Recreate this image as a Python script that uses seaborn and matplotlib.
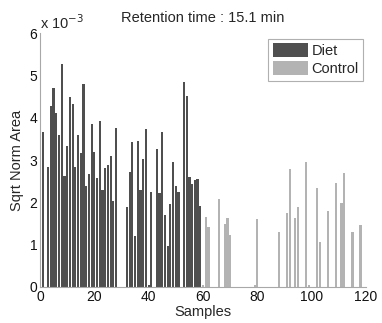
import numpy as np
import pandas as pd
import matplotlib
matplotlib.use("Agg")
import matplotlib.pyplot as plt
import seaborn as sns
from matplotlib.ticker import FuncFormatter

# Values in units of 1e-3
diet_values = [3.65, 0, 2.83, 4.28, 4.70, 4.12, 3.60, 5.27, 2.62, 3.33,
               4.50, 4.32, 2.83, 3.58, 3.17, 4.80, 2.38, 2.68, 3.85, 3.19,
               2.57, 3.92, 2.28, 2.80, 2.88, 3.10, 2.03, 3.75, 0, 0,
               0, 1.90, 2.72, 3.42, 1.20, 3.44, 2.30, 3.02, 3.74, 0.04,
               2.24, 0, 3.26, 2.21, 3.65, 1.69, 0.96, 1.96, 2.96, 2.39,
               2.25, 0, 4.84, 4.52, 2.59, 2.43, 2.53, 2.55, 1.91]
control_values = [0.04, 1.65, 1.42, 0, 0, 0, 2.09, 0, 1.50, 1.64,
                  1.23, 0, 0, 0, 0, 0, 0, 0, 0, 0.05,
                  1.60, 0, 0, 0, 0, 0, 0, 0, 1.30, 0,
                  0, 1.75, 2.78, 0, 1.63, 1.90, 0, 0, 2.96, 0.05,
                  0, 0, 2.33, 1.07, 0, 0, 1.80, 0, 0, 2.45,
                  0, 1.98, 2.69, 0, 0, 1.29, 0, 0, 1.47, 0, 0]
groups = ["Diet", "Control"]
x_ticks = [0, 20, 40, 60, 80, 100, 120]
y_ticks = [0, 1, 2, 3, 4, 5, 6]

samples = list(range(1, len(diet_values) + len(control_values) + 1))
values = np.array(diet_values + control_values) * 1e-3
group = [groups[0]] * len(diet_values) + [groups[1]] * len(control_values)
df = pd.DataFrame({"Sample": samples, "Value": values, "Group": group})

sns.set_style("white")
plt.rcParams["font.family"] = ["Liberation Sans", "DejaVu Sans"]

fig = plt.figure(figsize=(3.82, 3.23), dpi=100)
ax = fig.add_axes([40 / 382, 1 - 287 / 323, (366 - 40) / 382, (287 - 33) / 323])

sns.barplot(data=df, x="Sample", y="Value", hue="Group", native_scale=True,
            dodge=False, width=0.8, palette={"Diet": "#4f4f4f", "Control": "#b3b3b3"},
            linewidth=0, ax=ax)

ax.set_xlim(0, 120)
ax.set_ylim(0, 0.006)
ax.set_xticks(x_ticks)
ax.set_yticks([v * 1e-3 for v in y_ticks])
ax.yaxis.set_major_formatter(FuncFormatter(lambda v, p: f"{v * 1e3:.0f}"))
ax.tick_params(direction="in", length=3, color="#a0a0a0", labelsize=10, pad=2,
               labelcolor="#111111")
for s in ["top", "right"]:
    ax.spines[s].set_visible(False)
for s in ["left", "bottom"]:
    ax.spines[s].set_color("#a8a8a8")
    ax.spines[s].set_linewidth(0.8)

ax.set_xlabel("Samples", fontsize=10.5, labelpad=1)
ax.set_ylabel("Sqrt Norm Area", fontsize=10.5, labelpad=4)
ax.set_title("Retention time : 15.1 min", fontsize=10.5, pad=8)
ax.text(0.0, 1.005, r"x 10$^{-3}$", transform=ax.transAxes, fontsize=10.5,
        ha="left", va="bottom")

leg = ax.legend(loc="upper right", bbox_to_anchor=(0.991, 0.976), borderaxespad=0,
                fancybox=False, edgecolor="#b0b0b0", fontsize=10.5,
                handlelength=2.4, handleheight=1.1, handletextpad=0.25,
                borderpad=0.3, labelspacing=0.2, framealpha=1)
leg.get_frame().set_linewidth(0.8)

fig.savefig("out.png", dpi=100)
